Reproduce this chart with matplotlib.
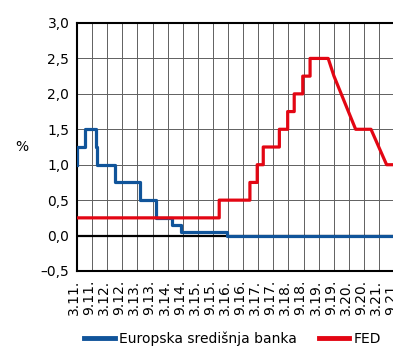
import matplotlib
matplotlib.use("Agg")
import matplotlib.pyplot as plt
from matplotlib.transforms import ScaledTranslation

# months counted from March 2011; step vertices of the policy rates (%)
ECB_MONTHS = [0, 0, 3.2, 3.2, 7.4, 7.4, 7.9, 7.9, 15.1, 15.1, 24.9, 24.9, 31.3, 31.3,
              37.9, 37.9, 41.3, 41.3, 59.5, 59.5, 130]
ECB_RATES = [1.0, 1.25, 1.25, 1.5, 1.5, 1.25, 1.25, 1.0, 1.0, 0.75, 0.75, 0.5, 0.5, 0.25,
             0.25, 0.15, 0.15, 0.05, 0.05, 0.0, 0.0]

FED_MONTHS = [0, 56.5, 56.5, 68.7, 68.7, 71.6, 71.6, 74.0, 74.0, 80.4, 80.4, 83.7, 83.7,
              86.3, 86.3, 89.7, 89.7, 92.6, 92.6, 99.8, 102.1, 110.7, 116.8, 123.0, 130]
FED_RATES = [0.25, 0.25, 0.5, 0.5, 0.75, 0.75, 1.0, 1.0, 1.25, 1.25, 1.5, 1.5, 1.75,
             1.75, 2.0, 2.0, 2.25, 2.25, 2.5, 2.5, 2.25, 1.5, 1.5, 1.0, 1.0]

X_TICKS = list(range(0, 127, 6))
X_LABELS = ["3.11.", "9.11.", "3.12.", "9.12.", "3.13.", "9.13.", "3.14.", "9.14.",
            "3.15.", "9.15.", "3.16.", "9.16.", "3.17.", "9.17.", "3.18.", "9.18.",
            "3.19.", "9.19.", "3.20.", "9.20.", "3.21.", "9.21."]
Y_TICKS = [-0.5, 0.0, 0.5, 1.0, 1.5, 2.0, 2.5, 3.0]
Y_LABELS = ["\u20130,5", "0,0", "0,5", "1,0", "1,5", "2,0", "2,5", "3,0"]

BLUE = "#10549a"
RED = "#e30613"

W, H = 393, 347
fig = plt.figure(figsize=(W / 100, H / 100), dpi=100)
# plot area runs past the right edge of the figure
ax = fig.add_axes([77 / W, 1 - 271 / H, 130 * 2.517 / W, 248 / H])

ax.set_xlim(0, 130)
ax.set_ylim(-0.5, 3.0)
ax.set_xticks(X_TICKS)
ax.set_xticklabels(X_LABELS, rotation=90, fontsize=10)
ax.set_yticks(Y_TICKS)
ax.set_yticklabels(Y_LABELS, fontsize=10)
ax.tick_params(length=0)
ax.tick_params(axis="x", pad=6.5)
ax.tick_params(axis="y", pad=5.5)
shift = ScaledTranslation(-3 / 100, 0, fig.dpi_scale_trans)
for lbl in ax.get_xticklabels():
    lbl.set_transform(lbl.get_transform() + shift)

ax.grid(True, color="#606060", linewidth=0.7)
ax.set_axisbelow(True)
ax.axhline(0, color="black", linewidth=1.6, zorder=2)
for side in ["left", "top", "bottom"]:
    ax.spines[side].set_color("black")
    ax.spines[side].set_linewidth(1.5)

ax.plot(ECB_MONTHS, ECB_RATES, color=BLUE, linewidth=2.3, zorder=3,
        label="Europska središnja banka")
ax.plot(FED_MONTHS, FED_RATES, color=RED, linewidth=2.3, zorder=3, label="FED")

fig.text(22 / W, 1 - 147 / H, "%", fontsize=10, ha="center", va="center")

leg = fig.legend(loc="center left", bbox_to_anchor=(84 / W, 1 - 339 / H), ncol=2,
                 frameon=False, fontsize=10, handlelength=2.2, handletextpad=0.3,
                 columnspacing=1.6, borderpad=0, borderaxespad=0)
for line in leg.get_lines():
    line.set_linewidth(3.5)

fig.savefig("out.png", dpi=100)
